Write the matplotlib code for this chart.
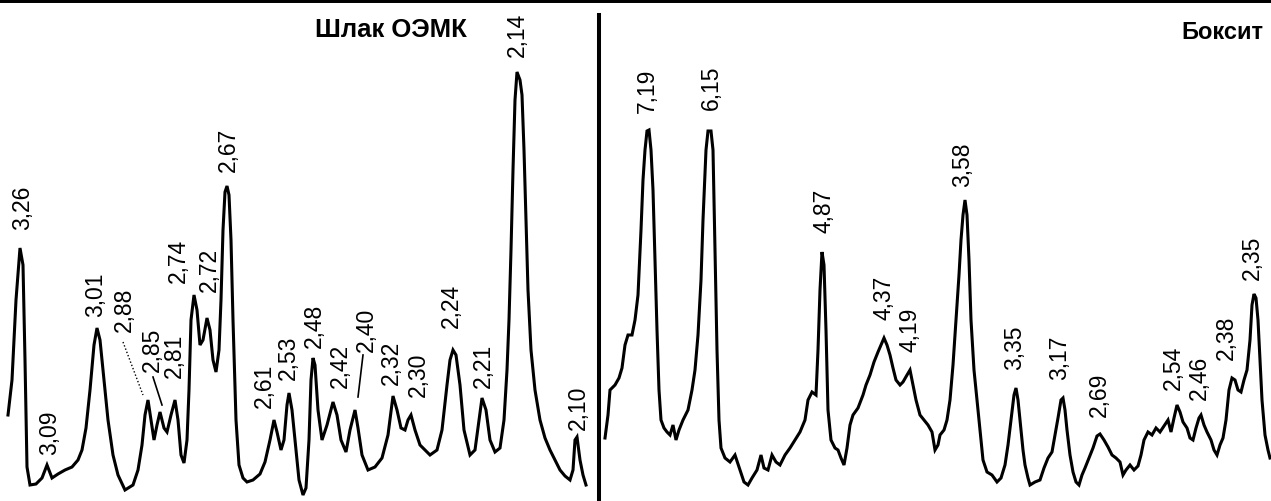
import matplotlib
matplotlib.use("Agg")
import matplotlib.pyplot as plt

# ---------------- data ----------------
# Left pattern: "Шлак ОЭМК" — scan position and intensity
slag_pos = [
    8, 12, 16, 20, 23, 25, 27, 30, 36, 42,
    47, 52, 58, 65, 72, 78, 82, 86, 90, 94,
    97, 100, 103, 108, 113, 118, 125, 133, 138, 142,
    145, 148, 151, 154, 157, 160, 164, 167, 171, 175,
    178, 181, 184, 187, 189, 191, 194, 197, 200, 203,
    207, 210, 213, 216, 219, 221, 223, 225, 227, 229,
    231, 233, 236, 239, 243, 247, 253, 260, 265, 270,
    274, 277, 281, 284, 287, 289, 292, 295, 299, 303,
    306, 309, 311, 313, 315, 318, 322, 327, 333, 337,
    341, 346, 350, 355, 358, 362, 368, 375, 382, 388,
    393, 397, 401, 405, 408, 411, 415, 420, 430, 437,
    442, 447, 450, 453, 456, 460, 464, 470, 475, 479,
    482, 486, 490, 495, 500, 504, 507, 509, 511, 513,
    515, 517, 520, 522, 524, 526, 528, 531, 535, 540,
    545, 550, 560, 565, 570, 573, 575, 577, 580, 583, 586,
]
slag_int = [
    86, 121, 201, 253, 236, 141, 34, 16, 17, 23,
    36, 23, 27, 31, 34, 41, 51, 73, 111, 156,
    173, 161, 131, 81, 46, 26, 11, 16, 31, 56,
    86, 101, 81, 61, 76, 89, 73, 69, 86, 101,
    81, 46, 38, 61, 111, 181, 206, 191, 156, 161,
    183, 171, 141, 129, 151, 201, 271, 309, 315, 306,
    261, 181, 81, 36, 23, 19, 21, 27, 39, 61,
    81, 69, 51, 61, 96, 108, 91, 61, 21, 6,
    13, 61, 121, 143, 136, 91, 61, 76, 99, 86,
    61, 49, 71, 91, 73, 46, 31, 34, 43, 66,
    105, 91, 73, 71, 81, 86, 71, 56, 46, 51,
    71, 116, 141, 151, 146, 116, 71, 46, 51, 81,
    103, 91, 61, 49, 53, 81, 131, 181, 251, 331,
    401, 429, 421, 406, 351, 281, 211, 151, 111, 81,
    63, 51, 31, 25, 21, 31, 61, 64, 41, 26, 16,
]

# Right pattern: "Боксит"
baux_pos = [
    605, 608, 610, 615, 619, 622, 625, 628, 632, 635,
    638, 641, 643, 645, 647, 649, 651, 653, 655, 657,
    659, 661, 664, 667, 670, 673, 676, 679, 683, 688,
    692, 695, 698, 701, 703, 706, 708, 711, 713, 715,
    717, 719, 721, 725, 730, 735, 740, 744, 748, 752,
    757, 761, 764, 768, 772, 776, 780, 785, 790, 795,
    800, 805, 808, 812, 816, 818, 820, 822, 824, 826,
    828, 831, 835, 838, 841, 844, 847, 850, 853, 858,
    863, 866, 870, 874, 878, 881, 884, 887, 890, 893,
    896, 900, 903, 907, 910, 913, 916, 920, 924, 928,
    932, 935, 938, 940, 944, 947, 950, 953, 956, 959,
    961, 963, 965, 967, 969, 971, 974, 977, 980, 983,
    987, 992, 997, 1001, 1005, 1008, 1011, 1014, 1016, 1018,
    1020, 1023, 1025, 1028, 1030, 1035, 1040, 1044, 1048, 1052,
    1055, 1058, 1061, 1063, 1065, 1067, 1070, 1073, 1076, 1079,
    1082, 1085, 1089, 1093, 1097, 1100, 1104, 1108, 1112, 1116,
    1120, 1123, 1126, 1130, 1134, 1138, 1141, 1144, 1148, 1152,
    1156, 1160, 1164, 1168, 1171, 1174, 1177, 1180, 1183, 1187,
    1190, 1193, 1196, 1199, 1201, 1204, 1207, 1211, 1214, 1217,
    1220, 1223, 1226, 1229, 1232, 1235, 1238, 1241, 1244, 1247,
    1250, 1252, 1254, 1256, 1258, 1260, 1262, 1265, 1268, 1270,
]
baux_int = [
    63, 86, 111, 116, 123, 133, 156, 166, 166, 181,
    206, 271, 321, 351, 370, 371, 351, 311, 241, 171,
    111, 81, 73, 69, 66, 76, 61, 71, 81, 91,
    111, 131, 166, 221, 281, 351, 370, 370, 351, 251,
    151, 81, 53, 43, 39, 46, 31, 19, 16, 23,
    31, 46, 33, 31, 46, 39, 36, 46, 53, 61,
    69, 81, 101, 109, 106, 151, 211, 249, 236, 171,
    91, 61, 53, 51, 43, 36, 53, 76, 86, 93,
    106, 116, 126, 139, 149, 156, 163, 156, 146, 133,
    121, 116, 119, 126, 131, 116, 101, 86, 81, 76,
    69, 51, 56, 66, 71, 81, 101, 136, 181, 226,
    261, 286, 301, 286, 241, 181, 131, 101, 71, 41,
    29, 26, 19, 23, 36, 56, 81, 106, 113, 101,
    81, 51, 36, 23, 16, 19, 21, 33, 43, 49,
    66, 83, 101, 103, 91, 71, 46, 29, 19, 16,
    26, 33, 43, 53, 65, 67, 61, 54, 46, 43,
    39, 26, 31, 36, 31, 35, 46, 61, 69, 66,
    73, 69, 75, 81, 69, 83, 96, 89, 79, 73,
    63, 61, 73, 83, 86, 76, 69, 61, 51, 46,
    56, 63, 81, 111, 123, 121, 111, 109, 121, 131,
    161, 196, 207, 203, 181, 141, 101, 66, 51, 43,
]

# d-spacing labels (text) and where their baseline starts
slag_labels = ["3,26", "3,09", "3,01", "2,88", "2,85", "2,81", "2,74", "2,72",
               "2,67", "2,61", "2,53", "2,48", "2,42", "2,40", "2,32", "2,30",
               "2,24", "2,21", "2,14", "2,10"]
slag_label_x = [23, 50, 96, 124, 152, 174, 178, 209, 228, 264, 288, 314, 340,
                366, 391, 418, 451, 483, 517, 578]
slag_label_y = [271, 46, 184, 169, 129, 123, 218, 209, 329, 93, 121, 153, 113,
                149, 116, 104, 173, 113, 444, 71]

baux_labels = ["7,19", "6,15", "4,87", "4,37", "4,19", "3,58", "3,35", "3,17",
               "2,69", "2,54", "2,46", "2,38", "2,35"]
baux_label_x = [647, 711, 824, 884, 910, 963, 1015, 1060, 1099, 1173, 1199,
                1226, 1252]
baux_label_y = [388, 391, 268, 181, 149, 314, 131, 121, 84, 111, 101, 141, 221]

titles = ["Шлак ОЭМК", "Боксит"]

# ---------------- drawing ----------------
W, H = 1271, 501
fig = plt.figure(figsize=(W / 100, H / 100), dpi=100)
ax = fig.add_axes([0, 0, 1, 1])
ax.set_xlim(0, W)
ax.set_ylim(0, H)
ax.set_xticks([])
ax.set_yticks([])
for s in ("left", "right", "bottom"):
    ax.spines[s].set_visible(False)
ax.spines["top"].set_linewidth(4.3)
ax.spines["top"].set_color("black")

lw = 2.2
ax.plot(slag_pos, slag_int, color="black", lw=lw, solid_joinstyle="miter")
ax.plot(baux_pos, baux_int, color="black", lw=lw, solid_joinstyle="miter")

# divider between the two patterns
ax.axvline(599, ymin=0, ymax=486 / H, color="black", lw=2.9)

font = ["Liberation Sans", "DejaVu Sans"]
for txt, x, y in zip(slag_labels + baux_labels,
                     slag_label_x + baux_label_x,
                     slag_label_y + baux_label_y):
    ax.text(x, y, txt, rotation=90, ha="center", va="bottom",
            fontsize=16.5, family=font, color="black")

# leader lines for crowded labels
ax.plot([123, 143], [159, 106], color="black", lw=1.0, ls=(0, (1, 1.5)))
ax.plot([153, 162], [124, 96], color="black", lw=1.2)
ax.plot([363, 358], [146, 104], color="black", lw=1.2)

ax.text(315, 483, titles[0], ha="left", va="top", fontsize=18.5,
        family=font, weight="bold", color="black")
ax.text(1181, 480, titles[1], ha="left", va="top", fontsize=17,
        family=font, weight="bold", color="black")

fig.savefig("out.png", dpi=100)
